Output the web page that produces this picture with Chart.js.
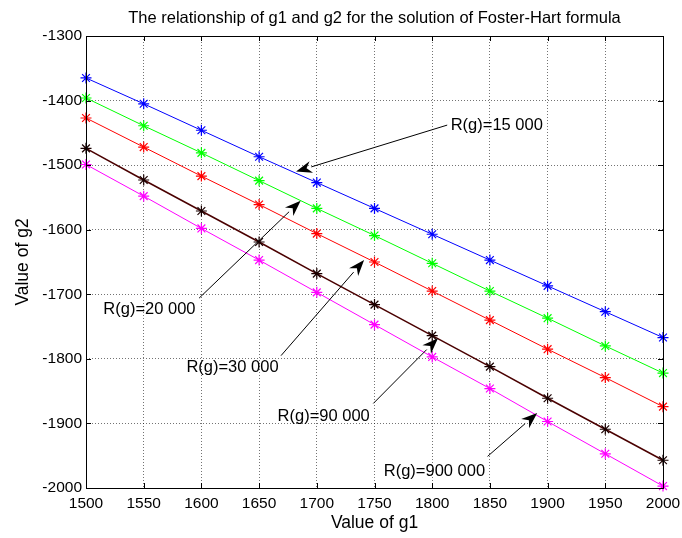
<!DOCTYPE html>
<html>
<head>
<meta charset="utf-8">
<script src="https://cdn.jsdelivr.net/npm/chart.js@4/dist/chart.umd.min.js"></script>
<style>
	html, body { margin: 0; padding: 0; background: #fff; }
	#wrap { width: 682px; height: 538px; }
</style>
</head>
<body>
<div id="wrap"><canvas id="fh-chart" width="682" height="538"></canvas></div>
<script>
const g1 = [1500, 1550, 1600, 1650, 1700, 1750, 1800, 1850, 1900, 1950, 2000];

const g2R15000 = [-1365, -1405, -1446, -1487, -1527, -1567, -1607, -1647, -1687, -1727, -1767];
const g2R20000 = [-1396, -1439, -1481, -1524, -1567, -1609, -1652, -1695, -1737, -1780, -1822];
const g2R30000 = [-1427, -1472, -1517, -1561, -1606, -1650, -1695, -1740, -1785, -1829, -1874];
const g2R90000 = [-1474, -1523, -1571, -1619, -1668, -1716, -1764, -1812, -1861, -1909, -1957];
const g2R900000 = [-1499, -1548, -1598, -1647, -1697, -1747, -1797, -1846, -1897, -1947, -1997];

const seriesLabels = ['R(g)=15 000', 'R(g)=20 000', 'R(g)=30 000', 'R(g)=90 000', 'R(g)=900 000'];
const seriesColors = ['#0000ff', '#00ff00', '#ff0000', '#4a0000', '#ff00ff'];

// annotation text anchor, arrow tail and arrow head, in data units
const noteText = [[1816, -1439], [1515, -1724], [1587, -1814], [1666, -1889], [1758, -1974]];
const noteTail = [[1813, -1438], [1598, -1706], [1669, -1795], [1749, -1869], [1848, -1951]];
const noteHead = [[1682, -1510], [1686, -1555], [1741, -1647], [1805, -1768], [1891, -1884]];

const FONT = '"Liberation Sans", Arial, sans-serif';

const toPoints = (ys) => g1.map((x, i) => ({ x, y: ys[i] }));

const allSeries = [g2R15000, g2R20000, g2R30000, g2R90000, g2R900000];

const datasets = allSeries.map((ys, i) => ({
	label: seriesLabels[i],
	data: toPoints(ys),
	borderColor: seriesColors[i],
	backgroundColor: seriesColors[i],
	borderWidth: i === 3 ? 1.5 : 1,
	pointStyle: 'star',
	pointRadius: 5.5,
	pointBorderWidth: 1.2,
	pointBorderColor: i === 3 ? '#1a0000' : seriesColors[i],
	pointHoverRadius: 5.5,
	tension: 0,
	clip: false,
}));

const matlabFrame = {
	id: 'matlabFrame',
	afterDraw(chart) {
		const { ctx, chartArea: a, scales } = chart;
		const xs = scales.x;
		const ys = scales.y;

		ctx.save();
		ctx.strokeStyle = '#000';
		ctx.lineWidth = 1;

		// box
		ctx.strokeRect(a.left + 0.5, a.top + 0.5, a.right - a.left, a.bottom - a.top);

		// inward ticks on all sides
		ctx.beginPath();
		xs.ticks.forEach((t) => {
			const px = Math.round(xs.getPixelForValue(t.value)) + 0.5;
			ctx.moveTo(px, a.bottom);
			ctx.lineTo(px, a.bottom - 5);
			ctx.moveTo(px, a.top);
			ctx.lineTo(px, a.top + 5);
		});
		ys.ticks.forEach((t) => {
			const py = Math.round(ys.getPixelForValue(t.value)) + 0.5;
			ctx.moveTo(a.left, py);
			ctx.lineTo(a.left + 5, py);
			ctx.moveTo(a.right, py);
			ctx.lineTo(a.right - 5, py);
		});
		ctx.stroke();

		// annotations with arrows
		ctx.fillStyle = '#000';
		ctx.font = '16.5px ' + FONT;
		ctx.textBaseline = 'middle';
		ctx.textAlign = 'left';
		noteText.forEach((p, i) => {
			ctx.fillText(seriesLabels[i], xs.getPixelForValue(p[0]), ys.getPixelForValue(p[1]));

			const tx = xs.getPixelForValue(noteTail[i][0]);
			const ty = ys.getPixelForValue(noteTail[i][1]);
			const hx = xs.getPixelForValue(noteHead[i][0]);
			const hy = ys.getPixelForValue(noteHead[i][1]);
			const ang = Math.atan2(hy - ty, hx - tx);
			const len = 16;
			const half = 6;
			const bx = hx - len * Math.cos(ang);
			const by = hy - len * Math.sin(ang);
			const nx = -Math.sin(ang);
			const ny = Math.cos(ang);

			ctx.beginPath();
			ctx.moveTo(tx, ty);
			ctx.lineTo(bx, by);
			ctx.stroke();

			ctx.beginPath();
			ctx.moveTo(hx, hy);
			ctx.lineTo(bx + nx * half, by + ny * half);
			ctx.lineTo(hx - (len - 5) * Math.cos(ang), hy - (len - 5) * Math.sin(ang));
			ctx.lineTo(bx - nx * half, by - ny * half);
			ctx.closePath();
			ctx.fill();
		});

		// title and axis titles
		ctx.textAlign = 'center';
		ctx.font = '16.5px ' + FONT;
		ctx.fillText('The relationship of g1 and g2 for the solution of Foster-Hart formula', (a.left + a.right) / 2, 18);

		ctx.font = '17.5px ' + FONT;
		ctx.fillText('Value of g1', (a.left + a.right) / 2, 523);

		ctx.translate(23, (a.top + a.bottom) / 2);
		ctx.rotate(-Math.PI / 2);
		ctx.fillText('Value of g2', 0, 0);
		ctx.restore();
	},
};

new Chart(document.getElementById('fh-chart'), {
	type: 'line',
	data: { datasets },
	options: {
		responsive: false,
		animation: false,
		events: [],
		layout: { padding: { top: 36, right: 19, left: 0, bottom: 0 } },
		plugins: {
			legend: { display: false },
			title: { display: false },
			tooltip: { enabled: false },
		},
		scales: {
			x: {
				type: 'linear',
				min: 1500,
				max: 2000,
				afterFit(scale) {
					scale.height = 50;
					scale.paddingLeft = 0;
					scale.paddingRight = 0;
				},
				ticks: {
					stepSize: 50,
					color: '#000',
					padding: 6,
					maxRotation: 0,
					font: { family: FONT, size: 15.5 },
					callback: (v) => String(v),
				},
				grid: {
					color: 'rgba(0,0,0,0.55)',
					lineWidth: 1,
					drawTicks: false,
				},
				border: { display: false, dash: [1, 2] },
			},
			y: {
				type: 'linear',
				min: -2000,
				max: -1300,
				afterFit(scale) {
					scale.width = 86;
					scale.paddingTop = 0;
					scale.paddingBottom = 0;
				},
				ticks: {
					stepSize: 100,
					color: '#000',
					padding: 4,
					font: { family: FONT, size: 15.5 },
					callback: (v) => String(v),
				},
				grid: {
					color: 'rgba(0,0,0,0.55)',
					lineWidth: 1,
					drawTicks: false,
				},
				border: { display: false, dash: [1, 2] },
			},
		},
	},
	plugins: [matlabFrame],
});
</script>
</body>
</html>
